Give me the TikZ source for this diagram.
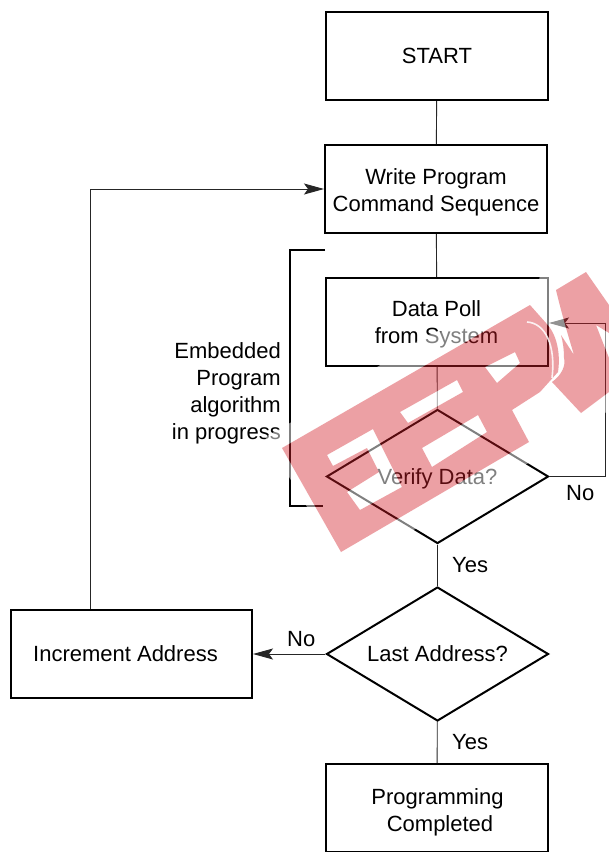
\documentclass[tikz,border=0pt]{standalone}
\usepackage{fontspec}
\setmainfont{Liberation Sans}
\usetikzlibrary{arrows.meta,shapes.geometric}
\tikzset{
  txt/.style={font=\fontsize{22}{27}\selectfont},
  box/.style={txt,draw=black,line width=2pt,minimum width=222pt,minimum height=88pt,align=center,inner sep=0pt},
  dia/.style={txt,draw=black,line width=2pt,diamond,aspect=1.66,minimum width=222pt,minimum height=134pt,align=center,inner sep=0pt},
  lbl/.style={txt,inner sep=0pt},
  conn/.style={draw=black!85,line width=.9pt},
  arr/.style={conn,-{Stealth[length=20pt,width=11pt,inset=4pt]}},
}
\definecolor{wmred}{RGB}{212,30,40}
\newcommand{\wmletters}{
  (282,448) -- (530,305) -- (546,323) .. controls (556,333) and (561,352) .. (558,372) -- (540,392) -- (512,410) -- (529,442) -- (341,552) -- cycle
  (556,290) -- (586,272) -- (609,305) -- (609,333) -- (596,325) -- (609,358) -- (609,392) -- (581,413) -- (552,382) .. controls (562,375) and (566,365) .. (564,358) .. controls (564,350) and (563,342) .. (561,335) -- (574,355) .. controls (568,335) and (562,315) .. (556,290) -- cycle
  (327,455) -- (373,429) -- (402,487) -- (360,510) -- (347,492) -- (379,472) -- (367,448) -- (333,466) -- cycle
  (400,412) -- (457,380) -- (463,392) -- (408,423) -- cycle
  (422,448) -- (478,415) -- (487,432) -- (432,467) -- cycle
  (485,367) -- (515,352) -- (520,363) -- (497,383) -- cycle
}
\begin{document}
\begin{tikzpicture}[x=1pt,y=-1pt]
\useasboundingbox (0,0) rectangle (609,852);
\fill[white] (0,0) rectangle (609,852);
\node[box] (start) at (437,56) {START};
\node[box] (write) at (436,189) {};
\node[box] (poll) at (437,322) {};
\node[dia] (verify) at (437.5,476.5) {};
\node[dia] (last) at (437.5,654) {Last Address?};
\node[box,minimum width=241pt] (inc) at (131.5,654) {};
\node[box] (done) at (437,808) {};
\node[txt,align=center] (writet) at (436,192) {Write Program\\Command Sequence};
\node[txt,align=center] (pollt) at (436.5,324) {Data Poll\\from System};
\node[txt] (verifyt) at (437.5,478.5) {Verify Data?};
\node[txt] (inct) at (125.5,654) {Increment Address};
\node[txt] (donet1) at (437.5,799) {Programming};
\node[txt] (donet2) at (440,826) {Completed};
\draw[conn] (start) -- (write);
\draw[conn] (write) -- (poll);
\draw[conn] (poll) -- (verify);
\draw[conn] (verify) -- (last);
\draw[conn] (last) -- (done);
\draw[arr] (last) -- (inc);
\coordinate (fb1) at (605,476.5);
\coordinate (fb2) at (605,323);
\draw[arr] (verify.east) -- (fb1) -- (fb2) -- (poll.east |- fb2);
\coordinate (lp) at (90,189);
\draw[arr] (inc.north -| lp) -- (lp) -- (write.west);
\coordinate (b1) at (325,250);
\coordinate (b2) at (290,250);
\coordinate (b3) at (290,506);
\coordinate (b4) at (323,506);
\draw[line width=1.7pt] (b1) -- (b2) -- (b3) -- (b4);
\node[lbl,anchor=east,align=right] (emb) at (281,393) {Embedded\\Program\\algorithm\\in progress};
\node[lbl,anchor=west] (no1) at (566,493) {No};
\node[lbl,anchor=west] (yes1) at (452,565) {Yes};
\node[lbl,anchor=west] (no2) at (287,639) {No};
\node[lbl,anchor=west] (yes2) at (452,742) {Yes};
% watermark: translucent white halo and letter gaps, then the red letters
\fill[white,opacity=.5,even odd rule]
  (265,437) -- (290,423) -- (427,335) -- (510,318) -- (535,300) -- (540,275) -- (609,245) -- (609,410) -- (580,432) -- (530,462) -- (345,570) -- cycle
  \wmletters;
\fill[wmred,opacity=.42,even odd rule] \wmletters;
\draw[white,opacity=.85,line width=1.6pt] (527,322) .. controls (545,323) and (556,345) .. (552,378);
\end{tikzpicture}
\end{document}
